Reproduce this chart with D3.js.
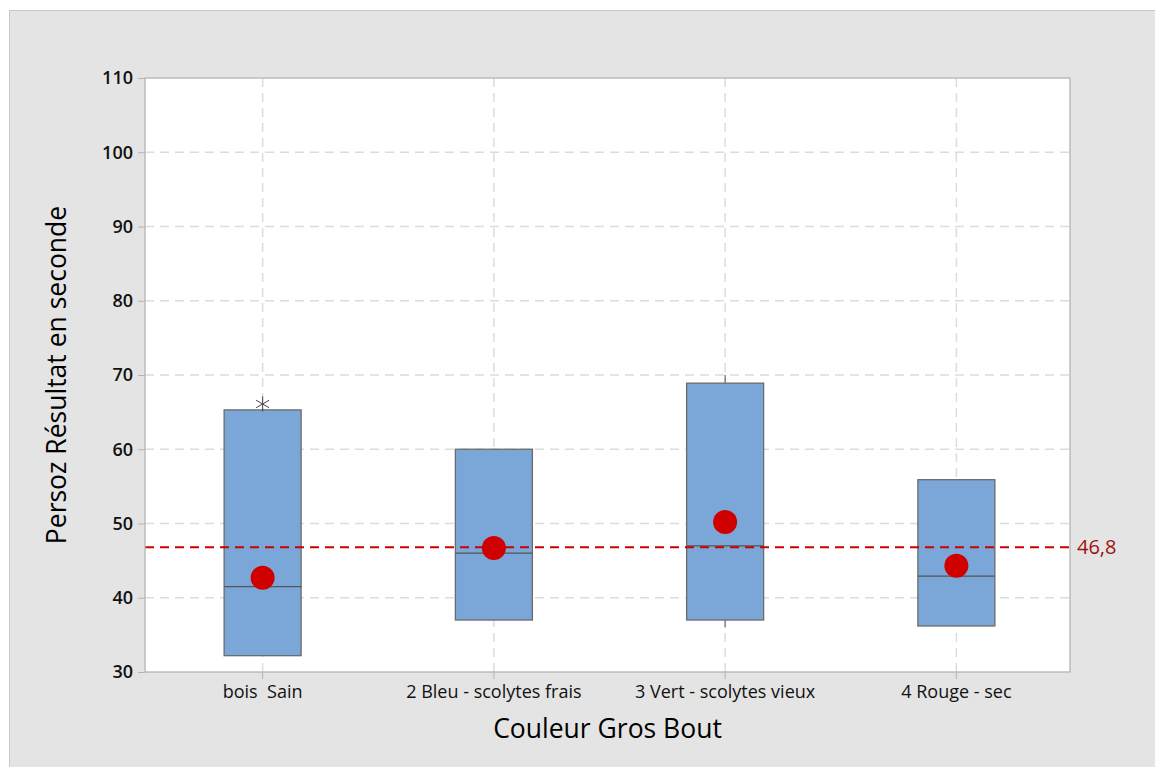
<!DOCTYPE html>
<html>
<head>
<meta charset="utf-8">
<script src="https://cdn.jsdelivr.net/npm/d3@7"></script>
<style>
  body { margin: 0; background: #fff; }
  svg { display: block; font-family: "Open Sans", "Noto Sans", sans-serif; }
</style>
</head>
<body>
<svg id="chart" width="1155" height="767"></svg>
<script>
// box stats
const categories = ['bois  Sain', '2 Bleu - scolytes frais', '3 Vert - scolytes vieux', '4 Rouge - sec']
const q1 = [32.2, 37.0, 37.0, 36.2]
const medians = [41.5, 46.0, 47.0, 42.9]
const q3 = [65.3, 60.0, 68.9, 55.9]
const whiskLow = [32.2, 37.0, 36.0, 36.2]
const whiskHigh = [65.3, 60.0, 70.0, 55.9]
const means = [42.7, 46.7, 50.2, 44.3]
const outliers = [[66.1], [], [], []]
const refValue = 46.8
const refLabel = '46,8'
const yTicks = [30, 40, 50, 60, 70, 80, 90, 100, 110]

const svg = d3.select('#chart')
const margin = {top: 78, left: 145, right: 85, bottom: 95}
const W = 1155, H = 767
const inW = W - margin.left - margin.right
const inH = H - margin.top - margin.bottom

// grey frame
svg.append('rect')
  .attr('x', 9.5).attr('y', 10.5)
  .attr('width', W).attr('height', H)
  .attr('fill', '#e4e4e4')
  .attr('stroke', '#c8c8c8')

const g = svg.append('g')
  .attr('transform', `translate(${margin.left},${margin.top})`)

g.append('rect')
  .attr('width', inW).attr('height', inH)
  .attr('fill', '#fff')

const x = d3.scaleBand().domain(categories).range([2, inW + 2])
const y = d3.scaleLinear().domain([30, 110]).range([inH, 0])
const boxW = 77

// grid
g.selectAll('.hgrid').data(yTicks.slice(1, -1)).join('line')
  .attr('x1', 0).attr('x2', inW)
  .attr('y1', d => y(d)).attr('y2', d => y(d))
  .attr('stroke', '#dcdcdc').attr('stroke-width', 1.5)
  .attr('stroke-dasharray', '9,6')

g.selectAll('.vgrid').data(categories).join('line')
  .attr('x1', d => x(d) + x.bandwidth() / 2).attr('x2', d => x(d) + x.bandwidth() / 2)
  .attr('y1', 0).attr('y2', inH)
  .attr('stroke', '#dcdcdc').attr('stroke-width', 1.5)
  .attr('stroke-dasharray', '9,6')

// boxes
const boxes = g.selectAll('.box').data(categories).join('g')
  .attr('transform', d => `translate(${x(d) + x.bandwidth() / 2},0)`)

boxes.append('line')
  .attr('y1', (d, i) => y(whiskHigh[i])).attr('y2', (d, i) => y(q3[i]))
  .attr('stroke', '#555')
boxes.append('line')
  .attr('y1', (d, i) => y(whiskLow[i])).attr('y2', (d, i) => y(q1[i]))
  .attr('stroke', '#555')

boxes.append('rect')
  .attr('x', -boxW / 2).attr('width', boxW)
  .attr('y', (d, i) => y(q3[i]))
  .attr('height', (d, i) => y(q1[i]) - y(q3[i]))
  .attr('fill', '#7ba7d8')
  .attr('stroke', '#6b6b6b').attr('stroke-width', 1.3)

boxes.append('line')
  .attr('x1', -boxW / 2).attr('x2', boxW / 2)
  .attr('y1', (d, i) => y(medians[i])).attr('y2', (d, i) => y(medians[i]))
  .attr('stroke', '#555').attr('stroke-width', 1.2)

// outliers as asterisks
boxes.each(function (d, i) {
  outliers[i].forEach(v => {
    d3.select(this).append('path')
      .attr('transform', `translate(0,${y(v)})`)
      .attr('d', d3.symbol(d3.symbolAsterisk, 160)())
      .attr('fill', 'none').attr('stroke', '#444').attr('stroke-width', 1)
  })
})

// reference line
g.append('line')
  .attr('x1', 0).attr('x2', inW)
  .attr('y1', y(refValue)).attr('y2', y(refValue))
  .attr('stroke', '#cc0000').attr('stroke-width', 2)
  .attr('stroke-dasharray', '9,6')

// means
boxes.append('circle')
  .attr('cy', (d, i) => y(means[i]))
  .attr('r', 12)
  .attr('fill', '#d00000')

// plot border
g.append('rect')
  .attr('width', inW).attr('height', inH)
  .attr('fill', 'none').attr('stroke', '#b4b4b4').attr('stroke-width', 1.3)

// axes
const yAxis = g.append('g')
  .call(d3.axisLeft(y).tickValues(yTicks).tickSize(7).tickPadding(5))
yAxis.select('.domain').remove()
yAxis.selectAll('line').attr('stroke', '#b4b4b4')
yAxis.selectAll('text').attr('font-size', 18).attr('fill', '#111').attr('font-family', '"Open Sans", sans-serif').attr('font-weight', 600)

const xAxis = g.append('g')
  .attr('transform', `translate(0,${inH})`)
  .call(d3.axisBottom(x).tickSize(7).tickPadding(6))
xAxis.select('.domain').remove()
xAxis.selectAll('line').attr('stroke', '#b4b4b4')
xAxis.selectAll('text').attr('font-size', 18).attr('fill', '#111').attr('font-family', '"Open Sans", sans-serif')
  .style('white-space', 'pre')

// ref label
g.append('text')
  .attr('x', inW + 7).attr('y', y(refValue) + 7)
  .attr('font-size', 20).attr('fill', '#a01010')
  .text(refLabel)

// titles
svg.append('text')
  .attr('x', margin.left + inW / 2).attr('y', 738)
  .attr('text-anchor', 'middle')
  .attr('font-size', 26.5).attr('fill', '#000')
  .text('Couleur Gros Bout')

svg.append('text')
  .attr('transform', `translate(66,${margin.top + inH / 2}) rotate(-90)`)
  .attr('text-anchor', 'middle')
  .attr('font-size', 26.5).attr('fill', '#000')
  .text('Persoz Résultat en seconde')
</script>
</body>
</html>
